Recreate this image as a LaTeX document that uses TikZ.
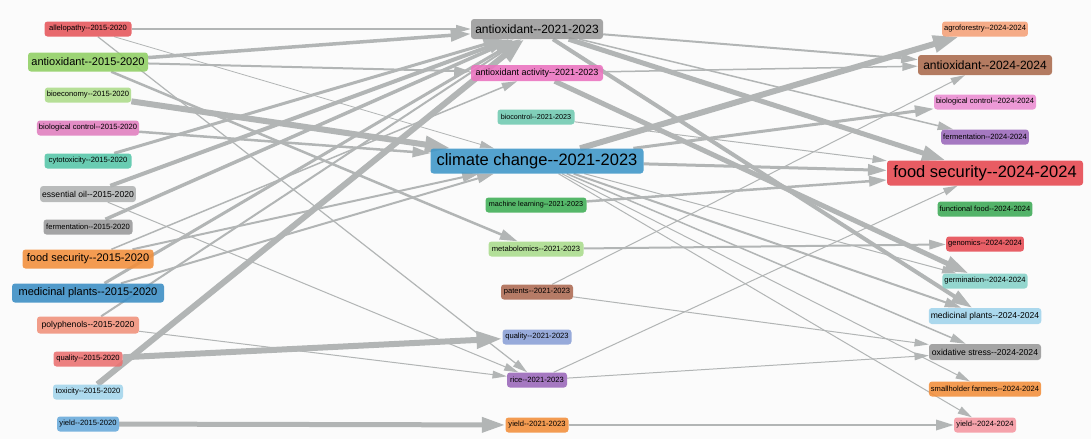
\documentclass[tikz,border=0pt]{standalone}
\usepackage{fontspec}
\setmainfont{Liberation Sans}
\usetikzlibrary{arrows.meta}
\pgfdeclarelayer{bg}
\pgfsetlayers{bg,main}
\newcommand\dsh{-{}-}
\definecolor{bgc}{HTML}{FBFBFB}
\definecolor{edgec}{RGB}{178,181,181}
\definecolor{cAllel}{HTML}{E6555A}
\definecolor{cAoA}{HTML}{8FCF63}
\definecolor{cBioe}{HTML}{ADDC8A}
\definecolor{cBcA}{HTML}{E07DBE}
\definecolor{cCyto}{HTML}{55C6A9}
\definecolor{cEo}{HTML}{B0B3B3}
\definecolor{cFermA}{HTML}{98999A}
\definecolor{cFsA}{HTML}{F28E3A}
\definecolor{cMpA}{HTML}{3A8DC4}
\definecolor{cPoly}{HTML}{F0907A}
\definecolor{cQualA}{HTML}{EA7070}
\definecolor{cTox}{HTML}{A3D5EC}
\definecolor{cYieldA}{HTML}{68AADA}
\definecolor{cAoB}{HTML}{9A9A9A}
\definecolor{cAoa}{HTML}{EB72BF}
\definecolor{cBioc}{HTML}{6FC9B0}
\definecolor{cCc}{HTML}{3D96C8}
\definecolor{cMl}{HTML}{3FAE55}
\definecolor{cMeta}{HTML}{AADC8C}
\definecolor{cPat}{HTML}{AD6A52}
\definecolor{cQualB}{HTML}{8A9FD6}
\definecolor{cRice}{HTML}{9A66BA}
\definecolor{cYieldB}{HTML}{F28E3A}
\definecolor{cAgro}{HTML}{F5A078}
\definecolor{cAoC}{HTML}{AA6A4C}
\definecolor{cBcC}{HTML}{EB8CD2}
\definecolor{cFermC}{HTML}{9A68BA}
\definecolor{cFsC}{HTML}{E6464F}
\definecolor{cFf}{HTML}{3CAA55}
\definecolor{cGen}{HTML}{E64A52}
\definecolor{cGerm}{HTML}{85D2C8}
\definecolor{cMpC}{HTML}{A0D4EC}
\definecolor{cOx}{HTML}{999999}
\definecolor{cSmall}{HTML}{F28E3A}
\definecolor{cYieldC}{HTML}{F596A0}
\begin{document}
\begin{tikzpicture}[x=1pt,y=-1pt,
  kw/.style={rounded corners=3pt, fill opacity=0.88, text opacity=1, inner xsep=2pt, inner ysep=0pt, text=black},
  sm/.style={kw, font=\fontsize{7.6}{8}\selectfont, minimum height=15pt},
  md/.style={kw, font=\fontsize{8.6}{9}\selectfont, minimum height=16pt},
  lg/.style={kw, font=\fontsize{11}{12}\selectfont, minimum height=19pt},
  lgb/.style={kw, font=\fontsize{12}{13}\selectfont, minimum height=20pt},
  hg/.style={kw, font=\fontsize{16.5}{18}\selectfont, minimum height=25pt},
  ed/.style={draw=edgec, line width=#1, -{Triangle[length=12pt 2.3, width=6pt 1.7]}},
]
% left column
\node[sm, fill=cAllel, minimum width=87pt] (allel) at (88,29) {allelopathy\dsh2015-2020};
\node[lg, fill=cAoA, minimum width=120pt] (ao15) at (88,62) {antioxidant\dsh2015-2020};
\node[sm, fill=cBioe, minimum width=86pt] (bioe) at (88,95) {bioeconomy\dsh2015-2020};
\node[sm, fill=cBcA, minimum width=102pt] (bc15) at (88,128) {biological control\dsh2015-2020};
\node[sm, fill=cCyto, minimum width=87pt] (cyto) at (88,161) {cytotoxicity\dsh2015-2020};
\node[md, fill=cEo, minimum width=95pt] (eo) at (88,194) {essential oil\dsh2015-2020};
\node[sm, fill=cFermA, minimum width=89pt] (ferm15) at (88,227) {fermentation\dsh2015-2020};
\node[lg, fill=cFsA, minimum width=131pt] (fs15) at (88,259) {food security\dsh2015-2020};
\node[lg, fill=cMpA, minimum width=152pt] (mp15) at (88,293) {medicinal plants\dsh2015-2020};
\node[md, fill=cPoly, minimum width=102pt, minimum height=17pt] (poly) at (88,325) {polyphenols\dsh2015-2020};
\node[sm, fill=cQualA, minimum width=69pt] (qual15) at (88,359) {quality\dsh2015-2020};
\node[sm, fill=cTox, minimum width=70pt] (tox) at (88,392) {toxicity\dsh2015-2020};
\node[sm, fill=cYieldA, minimum width=62pt] (yield15) at (88,424) {yield\dsh2015-2020};
% middle column
\node[lgb, fill=cAoB, minimum width=132pt] (ao21) at (537,29) {antioxidant\dsh2021-2023};
\node[md, fill=cAoa, minimum width=132pt, font=\fontsize{9}{10}\selectfont] (aoa) at (537,73) {antioxidant activity\dsh2021-2023};
\node[sm, fill=cBioc, minimum width=77pt, font=\fontsize{7.2}{8}\selectfont] (bioc) at (536,117) {biocontrol\dsh2021-2023};
\node[hg, fill=cCc, minimum width=213pt] (cc) at (537,161) {climate change\dsh2021-2023};
\node[sm, fill=cMl, minimum width=101pt, font=\fontsize{7.2}{8}\selectfont] (ml) at (536,205) {machine learning\dsh2021-2023};
\node[sm, fill=cMeta, minimum width=95pt] (meta) at (536,249) {metabolomics\dsh2021-2023};
\node[sm, fill=cPat, minimum width=72pt] (pat) at (537,292) {patents\dsh2021-2023};
\node[sm, fill=cQualB, minimum width=69pt] (qual21) at (537,337) {quality\dsh2021-2023};
\node[sm, fill=cRice, minimum width=60pt] (rice) at (537,380) {rice\dsh2021-2023};
\node[sm, fill=cYieldB, minimum width=63pt] (yield21) at (537,425) {yield\dsh2021-2023};
% right column
\node[sm, fill=cAgro, minimum width=84pt] (agro) at (985,29) {agroforestry\dsh2024-2024};
\node[lgb, fill=cAoC, minimum width=134pt] (ao24) at (985,65) {antioxidant\dsh2024-2024};
\node[sm, fill=cBcC, minimum width=102pt] (bc24) at (985,102) {biological control\dsh2024-2024};
\node[sm, fill=cFermC, minimum width=86pt] (ferm24) at (985,137) {fermentation\dsh2024-2024};
\node[hg, fill=cFsC, minimum width=196pt] (fs24) at (985,173) {food security\dsh2024-2024};
\node[sm, fill=cFf, minimum width=92pt] (ff) at (985,209) {functional food\dsh2024-2024};
\node[sm, fill=cGen, minimum width=77pt] (gen) at (985,244) {genomics\dsh2024-2024};
\node[sm, fill=cGerm, minimum width=84pt] (germ) at (985,281) {germination\dsh2024-2024};
\node[md, fill=cMpC, minimum width=110pt] (mp24) at (985,316) {medicinal plants\dsh2024-2024};
\node[md, fill=cOx, minimum width=112pt] (ox) at (985,352) {oxidative stress\dsh2024-2024};
\node[sm, fill=cSmall, minimum width=112pt] (small) at (985,389) {smallholder farmers\dsh2024-2024};
\node[sm, fill=cYieldC, minimum width=62pt] (yield24) at (985,425) {yield\dsh2024-2024};
\begin{pgfonlayer}{bg}
\fill[bgc] (0,0) rectangle (1091,439);
% left -> middle
\draw[ed=1.2] (allel) -- (ao21);
\draw[ed=0.8] (allel) -- (cc);
\draw[ed=1.2] (allel) -- (rice);
\draw[ed=3.5] (ao15) -- (ao21);
\draw[ed=2] (ao15) -- (aoa);
\draw[ed=2.5] (ao15) -- (meta);
\draw[ed=6] (bioe) -- (cc);
\draw[ed=2.5] (bc15) -- (cc);
\draw[ed=3] (cyto) -- (ao21);
\draw[ed=4] (eo) -- (ao21);
\draw[ed=1] (eo) -- (rice);
\draw[ed=3.5] (ferm15) -- (ao21);
\draw[ed=2] (fs15) -- (cc);
\draw[ed=1.5] (fs15) -- (aoa);
\draw[ed=2] (mp15) -- (cc);
\draw[ed=3] (mp15) -- (ao21);
\draw[ed=2] (poly) -- (ao21);
\draw[ed=1] (poly) -- (rice);
\draw[ed=6] (qual15) -- (qual21);
\draw[ed=6] (tox) -- (ao21);
\draw[ed=5] (yield15) -- (yield21);
% middle -> right
\draw[ed=2] (ao21) -- (ao24);
\draw[ed=1.5] (ao21) -- (ferm24);
\draw[ed=5] (ao21) -- (fs24);
\draw[ed=4] (ao21) -- (mp24);
\draw[ed=1.5] (aoa) -- (ao24);
\draw[ed=5] (aoa) -- (germ);
\draw[ed=1] (bioc) -- (fs24);
\draw[ed=6] (cc) -- (agro);
\draw[ed=3] (cc) -- (bc24);
\draw[ed=3] (cc) -- (fs24);
\draw[ed=1] (cc) -- (germ);
\draw[ed=2] (cc) -- (mp24);
\draw[ed=1.5] (cc) -- (ox);
\draw[ed=1] (cc) -- (small);
\draw[ed=1] (cc) -- (yield24);
\draw[ed=2.5] (ml) -- (fs24);
\draw[ed=2] (meta) -- (gen);
\draw[ed=1] (pat) -- (ao24);
\draw[ed=1] (pat) -- (ox);
\draw[ed=1] (rice) -- (ox);
\draw[ed=1] (rice) -- (fs24);
\draw[ed=2.5] (yield21) -- (yield24);
\end{pgfonlayer}
\end{tikzpicture}
\end{document}
